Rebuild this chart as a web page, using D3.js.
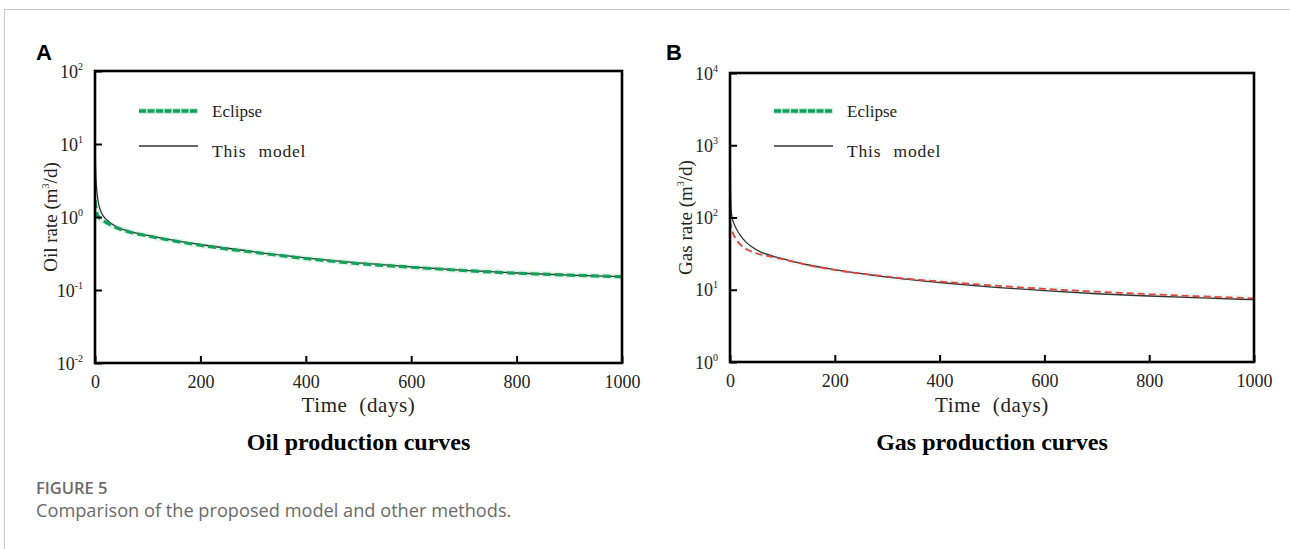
<!DOCTYPE html>
<html>
<head>
<meta charset="utf-8">
<script src="https://cdn.jsdelivr.net/npm/d3@7"></script>
<style>
  html, body { margin: 0; padding: 0; background: #fff; }
  svg { display: block; }
</style>
</head>
<body>
<svg id="fig" width="1290" height="549"></svg>
<script>
// ---- Data: oil production (panel A) ----
const oilEclipseT = [0, 2, 5, 10, 20, 40, 60, 100, 150, 200, 300, 400, 500, 600, 700, 800, 900, 1000];
const oilEclipseV = [1.7, 1.3, 1.05, 0.95, 0.85, 0.72, 0.64, 0.55, 0.47, 0.41, 0.33, 0.27, 0.23, 0.205, 0.185, 0.17, 0.16, 0.152];
const oilModelT = [0.5, 1, 2, 4, 7, 10, 15, 20, 30, 40, 60, 100, 150, 200, 300, 400, 500, 600, 700, 800, 900, 1000];
const oilModelV = [8, 5, 3.2, 2.1, 1.5, 1.25, 1.05, 0.95, 0.82, 0.74, 0.65, 0.56, 0.48, 0.42, 0.335, 0.275, 0.235, 0.207, 0.186, 0.171, 0.16, 0.152];

// ---- Data: gas production (panel B) ----
const gasEclipseT = [0, 2, 5, 10, 20, 30, 50, 80, 100, 150, 200, 300, 400, 500, 600, 700, 800, 900, 1000];
const gasEclipseV = [90, 75, 62, 52, 42, 37, 32, 28.5, 26.5, 21.8, 18.8, 15.2, 13, 11.5, 10.3, 9.4, 8.7, 8.1, 7.6];
const gasModelT = [0.5, 1, 2, 4, 7, 10, 15, 20, 30, 40, 60, 80, 100, 150, 200, 300, 400, 500, 600, 700, 800, 900, 1000];
const gasModelV = [900, 300, 130, 100, 85, 75, 64, 56, 46, 40, 33, 29.5, 27, 22, 19, 15, 12.6, 10.9, 9.7, 8.8, 8.2, 7.7, 7.3];

// ---- Axis ticks ----
const xTicks = [0, 200, 400, 600, 800, 1000];
const oilExponents = [-2, -1, 0, 1, 2];
const gasExponents = [0, 1, 2, 3, 4];

const legendNames = ["Eclipse", "This model"];

const svg = d3.select("#fig");
const serif = "'Liberation Serif', 'Times New Roman', serif";
const sans = "'Open Sans', 'Noto Sans', sans-serif";

// light frame along the top and left
svg.append("line").attr("x1", 4.5).attr("x2", 1290).attr("y1", 9.5).attr("y2", 9.5)
  .attr("stroke", "#c8c8c8").attr("stroke-width", 1);
svg.append("line").attr("x1", 4.5).attr("x2", 4.5).attr("y1", 9.5).attr("y2", 549)
  .attr("stroke", "#c8c8c8").attr("stroke-width", 1);

function drawPanel(cfg) {
  const g = svg.append("g");
  const x = d3.scaleLinear().domain([0, 1000]).range([cfg.left, cfg.right]);
  const y = d3.scaleLog()
    .domain([Math.pow(10, cfg.exps[0]), Math.pow(10, cfg.exps[cfg.exps.length - 1])])
    .range([cfg.bottom, cfg.top]);

  // panel letter
  g.append("text").attr("x", cfg.letterX).attr("y", 60)
    .attr("font-family", "'Liberation Sans', Arial, sans-serif").attr("font-weight", "bold")
    .attr("font-size", 22).attr("fill", "#000").text(cfg.letter);

  const clipId = "clip-" + cfg.letter;
  g.append("clipPath").attr("id", clipId).append("rect")
    .attr("x", cfg.left).attr("y", cfg.top)
    .attr("width", cfg.right - cfg.left).attr("height", cfg.bottom - cfg.top);

  const line = d3.line().x(d => x(d[0])).y(d => y(d[1])).curve(d3.curveMonotoneX);
  const eclipse = cfg.eT.map((t, i) => [t, cfg.eV[i]]);
  const model = cfg.mT.map((t, i) => [t, cfg.mV[i]]);

  const plot = g.append("g").attr("clip-path", `url(#${clipId})`);
  // soft halo behind the reference curve
  plot.append("path").datum(eclipse).attr("d", line)
    .attr("fill", "none").attr("stroke", cfg.haloColor).attr("stroke-width", 6)
    .attr("stroke-opacity", 0.35);
  plot.append("path").datum(model).attr("d", line)
    .attr("fill", "none").attr("stroke", "#333").attr("stroke-width", 1.3);
  plot.append("path").datum(eclipse).attr("d", line)
    .attr("fill", "none").attr("stroke", cfg.eColor).attr("stroke-width", cfg.eWidth)
    .attr("stroke-dasharray", cfg.eDash);

  // axes with inward ticks
  const xAxis = d3.axisBottom(x).tickValues(xTicks).tickFormat(d3.format("d"))
    .tickSizeInner(-7).tickSizeOuter(0).tickPadding(12);
  const gx = g.append("g").attr("transform", `translate(0,${cfg.bottom})`).call(xAxis);
  gx.select(".domain").remove();
  gx.selectAll(".tick line").attr("stroke", "#000").attr("stroke-width", 2);
  gx.selectAll(".tick text").attr("font-family", serif).attr("font-size", 18).attr("fill", "#222");

  const yTickVals = cfg.exps.map(e => Math.pow(10, e));
  const yAxis = d3.axisLeft(y).tickValues(yTickVals).tickSizeInner(-7).tickSizeOuter(0)
    .tickFormat(() => "");
  const gy = g.append("g").attr("transform", `translate(${cfg.left},0)`).call(yAxis);
  gy.select(".domain").remove();
  gy.selectAll(".tick line").attr("stroke", "#000").attr("stroke-width", 2);
  gy.selectAll(".tick").each(function (d, i) {
    const t = d3.select(this).append("text")
      .attr("x", -12).attr("y", 6).attr("text-anchor", "end")
      .attr("font-family", serif).attr("font-size", 18).attr("fill", "#222");
    t.append("tspan").text("10");
    t.append("tspan").attr("dy", -8).attr("font-size", 10).text(String(cfg.exps[i]));
  });

  // frame
  g.append("rect").attr("x", cfg.left).attr("y", cfg.top)
    .attr("width", cfg.right - cfg.left).attr("height", cfg.bottom - cfg.top)
    .attr("fill", "none").attr("stroke", "#000").attr("stroke-width", 2.6);

  // axis titles
  const cx = (cfg.left + cfg.right) / 2;
  g.append("text").attr("x", cx).attr("y", 412).attr("text-anchor", "middle")
    .attr("font-family", serif).attr("font-size", 21).attr("fill", "#222")
    .attr("letter-spacing", 0.6).attr("word-spacing", 6).text("Time (days)");
  const yt = g.append("text")
    .attr("transform", `translate(${cfg.left - 38},${(cfg.top + cfg.bottom) / 2}) rotate(-90)`)
    .attr("text-anchor", "middle").attr("font-family", serif).attr("font-size", 19).attr("fill", "#222");
  yt.append("tspan").text(cfg.yLabel + " (m");
  yt.append("tspan").attr("dy", -8).attr("font-size", 10).text("3");
  yt.append("tspan").attr("dy", 8).text("/d)");

  // panel subtitle
  g.append("text").attr("x", cx).attr("y", 450).attr("text-anchor", "middle")
    .attr("font-family", serif).attr("font-weight", "bold").attr("font-size", 24)
    .attr("fill", "#000").text(cfg.subtitle);

  // legend
  const lx1 = cfg.left + 44, lx2 = cfg.left + 103, tx = cfg.left + 117;
  g.append("line").attr("x1", lx1).attr("x2", lx2).attr("y1", 111).attr("y2", 111)
    .attr("stroke", "#7fd3a8").attr("stroke-width", 6).attr("stroke-opacity", 0.4);
  g.append("line").attr("x1", lx1).attr("x2", lx2).attr("y1", 111).attr("y2", 111)
    .attr("stroke", "#13a05c").attr("stroke-width", 3.5).attr("stroke-dasharray", "7,1.5");
  g.append("text").attr("x", tx).attr("y", 117).attr("font-family", serif)
    .attr("font-size", 17).attr("fill", "#222").text(legendNames[0]);
  g.append("line").attr("x1", lx1).attr("x2", lx2).attr("y1", 146).attr("y2", 146)
    .attr("stroke", "#333").attr("stroke-width", 1.3);
  g.append("text").attr("x", tx).attr("y", 157).attr("font-family", serif)
    .attr("font-size", 17.5).attr("fill", "#222").attr("letter-spacing", 0.8)
    .attr("word-spacing", 7).text(legendNames[1]);
}

drawPanel({
  letter: "A", letterX: 36, left: 95, right: 622, top: 71, bottom: 363,
  exps: oilExponents, yLabel: "Oil rate", subtitle: "Oil production curves",
  eT: oilEclipseT, eV: oilEclipseV, mT: oilModelT, mV: oilModelV,
  eColor: "#12a05a", eWidth: 3.2, eDash: "8,4", haloColor: "#a8e6c6"
});

drawPanel({
  letter: "B", letterX: 666, left: 730, right: 1254, top: 73, bottom: 362,
  exps: gasExponents, yLabel: "Gas rate", subtitle: "Gas production curves",
  eT: gasEclipseT, eV: gasEclipseV, mT: gasModelT, mV: gasModelV,
  eColor: "#e8433a", eWidth: 1.8, eDash: "7,4", haloColor: "#c6f0ec"
});

// caption
svg.append("text").attr("x", 36).attr("y", 494).attr("font-family", sans)
  .attr("font-size", 16.5).attr("font-weight", 600).attr("fill", "#6a6a6a").text("FIGURE 5");
svg.append("text").attr("x", 36).attr("y", 517).attr("font-family", sans)
  .attr("font-size", 18.2).attr("fill", "#6a6a6a").text("Comparison of the proposed model and other methods.");
</script>
</body>
</html>
